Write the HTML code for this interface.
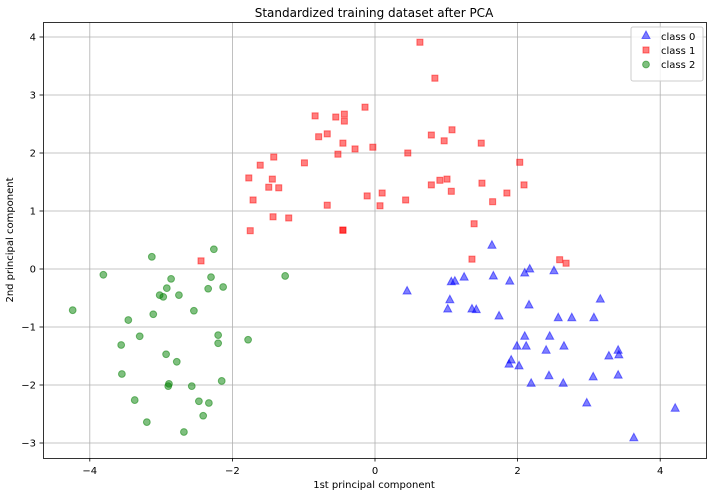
<!DOCTYPE html>
<html><head><meta charset="utf-8"><style>
body{margin:0;background:#fff;font-family:"Liberation Sans","DejaVu Sans",sans-serif}
svg text{font-family:"DejaVu Sans","Liberation Sans",sans-serif}
</style></head><body>
<svg id="chart" width="712" height="496" viewBox="0 0 712 496" xmlns="http://www.w3.org/2000/svg">
<rect width="712" height="496" fill="#fff"/>
<text x="374" y="17" text-anchor="middle" font-size="12">Standardized training dataset after PCA</text>
<g id="grid"></g>
<g id="marks"></g>
<rect x="43.5" y="22.5" width="663" height="436" fill="none" stroke="#000" stroke-width="0.8"/>
<g id="ticks"></g>
<text x="374" y="488" text-anchor="middle" font-size="10">1st principal component</text>
<text transform="translate(13,240) rotate(-90)" text-anchor="middle" font-size="10">2nd principal component</text>
<g id="legend">
<rect x="631" y="27" width="72" height="54" rx="2" fill="#fff" fill-opacity="0.8" stroke="#ccc"/>
<polygon points="646,31 650,38.5 642,38.5" fill="#0000ff" fill-opacity="0.5" stroke="#0000ff" stroke-opacity="0.5"/>
<text x="661" y="40" font-size="10">class 0</text>
<rect x="643" y="47" width="6" height="6" fill="#ff0000" fill-opacity="0.5" stroke="#ff0000" stroke-opacity="0.5"/>
<text x="661" y="54" font-size="10">class 1</text>
<circle cx="646" cy="64.5" r="3.4" fill="#008000" fill-opacity="0.5" stroke="#008000" stroke-opacity="0.5"/>
<text x="661" y="68" font-size="10">class 2</text>
</g>
</svg>
<script>
const xTicks=[-4,-2,0,2,4];
const yTicks=[-3,-2,-1,0,1,2,3,4];
const class0X=[1.64,0.45,1.07,1.12,1.25,1.66,1.89,2.10,2.17,2.51,1.05,1.02,1.36,1.42,1.74,2.16,3.16,2.57,2.76,3.07,2.10,2.45,1.99,2.12,2.40,2.65,3.28,3.41,3.42,1.91,1.88,2.02,2.44,2.19,2.64,3.06,3.41,2.97,4.21,3.63];
const class0Y=[0.41,-0.38,-0.22,-0.21,-0.14,-0.12,-0.21,-0.07,0.00,-0.03,-0.53,-0.69,-0.69,-0.70,-0.81,-0.62,-0.52,-0.84,-0.84,-0.84,-1.16,-1.16,-1.33,-1.33,-1.40,-1.33,-1.50,-1.40,-1.48,-1.57,-1.64,-1.67,-1.84,-1.97,-1.97,-1.86,-1.83,-2.31,-2.40,-2.91];
const class1X=[0.63,0.84,-0.14,-0.84,-0.55,-0.43,-0.43,1.08,-0.79,-0.67,0.79,0.97,1.49,-0.45,-0.28,-0.03,-0.52,0.46,-1.42,-1.61,-0.99,2.03,-1.77,-1.44,-1.49,-1.35,0.79,0.91,1.01,1.50,2.09,1.07,1.85,-0.11,0.10,-1.71,-0.67,0.07,0.43,1.65,-1.43,-1.21,1.39,-1.75,-0.45,-0.45,1.36,2.59,2.68,-2.44];
const class1Y=[3.91,3.29,2.79,2.64,2.62,2.67,2.55,2.40,2.28,2.33,2.31,2.21,2.17,2.17,2.07,2.10,1.98,2.00,1.93,1.79,1.83,1.84,1.57,1.55,1.41,1.40,1.45,1.53,1.55,1.48,1.45,1.34,1.31,1.26,1.31,1.19,1.10,1.09,1.19,1.16,0.90,0.88,0.78,0.66,0.67,0.67,0.17,0.16,0.10,0.14];
const class2X=[-2.26,-3.13,-3.81,-2.86,-2.30,-1.26,-2.92,-2.34,-2.13,-3.02,-2.97,-2.75,-4.24,-2.54,-3.11,-3.46,-3.30,-2.20,-2.20,-1.78,-3.56,-2.93,-2.78,-3.55,-2.89,-2.90,-2.57,-2.15,-3.37,-2.47,-2.33,-2.41,-3.20,-2.68];
const class2Y=[0.34,0.21,-0.10,-0.17,-0.14,-0.12,-0.33,-0.34,-0.31,-0.45,-0.48,-0.45,-0.71,-0.72,-0.78,-0.88,-1.16,-1.14,-1.28,-1.22,-1.31,-1.47,-1.60,-1.81,-1.98,-2.02,-2.02,-1.93,-2.26,-2.28,-2.31,-2.53,-2.64,-2.81];
const NS='http://www.w3.org/2000/svg';
const sx=v=>375+v*71.3;
const sy=v=>269-v*58;
function mk(tag,attrs,parent){const e=document.createElementNS(NS,tag);for(const k in attrs)e.setAttribute(k,attrs[k]);parent.appendChild(e);return e;}
const grid=document.getElementById('grid'),ticks=document.getElementById('ticks'),marks=document.getElementById('marks');
xTicks.forEach(t=>{const x=sx(t);
 const g=mk('line',{x1:x,x2:x,y1:22,y2:458,stroke:'#b0b0b0','stroke-width':0.8},grid);
 
 
 mk('line',{x1:x,x2:x,y1:458,y2:461.5,stroke:'#000','stroke-width':0.8},ticks);
 const l=mk('text',{x:x,y:474,'text-anchor':'middle','font-size':10},ticks);l.textContent=t<0?'\u2212'+(-t):t;
 
 });
yTicks.forEach(t=>{const y=sy(t);
 const g=mk('line',{x1:43,x2:706,y1:y,y2:y,stroke:'#b0b0b0','stroke-width':0.8},grid);
 
 
 mk('line',{x1:39.5,x2:43,y1:y,y2:y,stroke:'#000','stroke-width':0.8},ticks);
 const l=mk('text',{x:36,y:y+3.5,'text-anchor':'end','font-size':10},ticks);l.textContent=t<0?'\u2212'+(-t):t;
 
 });
class0X.forEach((v,i)=>{const x=sx(v),y=sy(class0Y[i]);
 const p=mk('polygon',{points:`${x},${y-4.5} ${x+4},${y+3} ${x-4},${y+3}`,fill:'#0000ff','fill-opacity':0.5,stroke:'#0000ff','stroke-opacity':0.5},marks);
 
 });
class1X.forEach((v,i)=>{const x=sx(v),y=sy(class1Y[i]);
 const p=mk('rect',{x:x-3,y:y-3,width:6,height:6,fill:'#ff0000','fill-opacity':0.5,stroke:'#ff0000','stroke-opacity':0.5},marks);
 
 });
class2X.forEach((v,i)=>{const x=sx(v),y=sy(class2Y[i]);
 const p=mk('circle',{cx:x,cy:y,r:3.4,fill:'#008000','fill-opacity':0.5,stroke:'#008000','stroke-opacity':0.5},marks);
 
 });
</script>
</body></html>
